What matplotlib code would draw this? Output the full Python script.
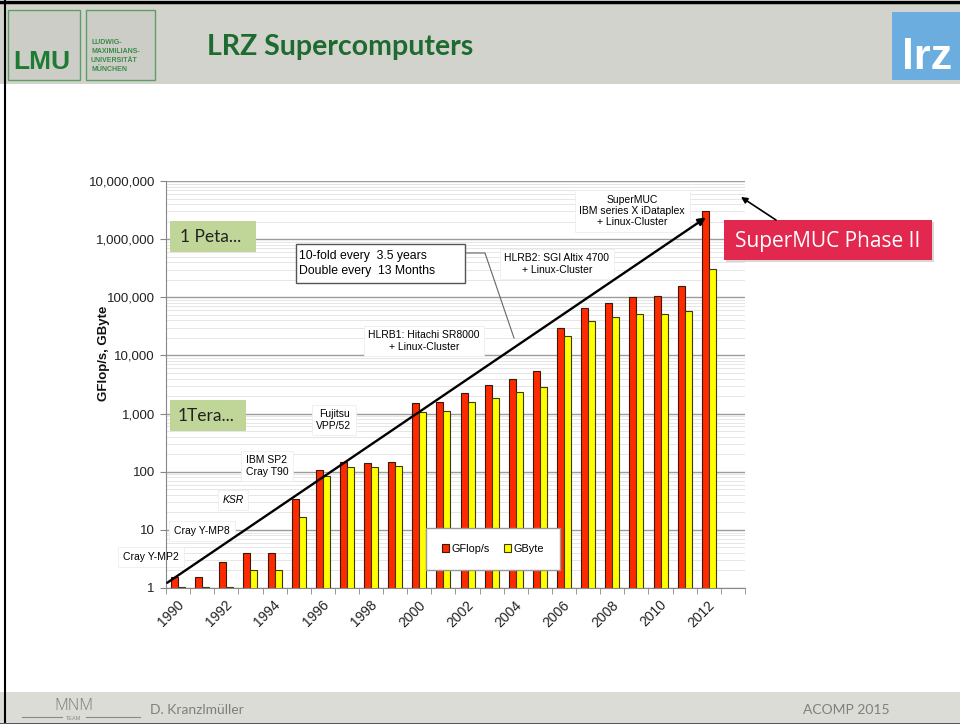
import numpy as np
import matplotlib
matplotlib.use("Agg")
import matplotlib.pyplot as plt
from matplotlib.patches import Rectangle
from matplotlib.lines import Line2D
from matplotlib.ticker import FixedLocator, LogLocator, NullFormatter, FuncFormatter

plt.rcParams['font.family'] = ['Liberation Sans', 'DejaVu Sans']

# data
years = list(range(1990, 2013))
gflops = [1.55, 1.55, 2.8, 4.0, 4.0, 34, 107, 147, 141, 148,
          1510, 1570, 2290, 3100, 3900, 5350, 29900, 65700, 80300, 99500,
          106000, 159000, 3020000]
gbyte = [1.04, 1.02, 1.02, 2.0, 2.0, 16.9, 85, 120, 120, 125,
         1080, 1120, 1590, 1880, 2330, 2870, 21200, 39400, 46000, 52000,
         52000, 59000, 312000]
series_names = ['GFlop/s', 'GByte']
machines = ['Cray Y-MP2', 'Cray Y-MP8', 'KSR', 'IBM SP2\nCray T90', 'Fujitsu\nVPP/52',
            'HLRB1: Hitachi SR8000\n+ Linux-Cluster',
            'HLRB2: SGI Altix 4700\n+ Linux-Cluster',
            'SuperMUC\nIBM series X iDataplex\n+ Linux-Cluster']

W, H = 960, 724
fig = plt.figure(figsize=(W / 100, H / 100), dpi=100)
fig.patch.set_facecolor('white')


def fx(x):
    return x / W


def fy(y):
    return 1 - y / H


def frect(x0, y0, x1, y1, **kw):
    r = Rectangle((fx(x0), fy(y1)), fx(x1) - fx(x0), fy(y0) - fy(y1),
                  transform=fig.transFigure, **kw)
    fig.add_artist(r)
    return r


# slide header / footer
frect(0, 3, 960, 84, fc='#D3D3CD', ec='none', zorder=0)
frect(0, 692, 960, 722, fc='#DCDCD6', ec='none', zorder=0)
fig.add_artist(Line2D([0, 1], [fy(1.5), fy(1.5)], transform=fig.transFigure, color='black', lw=2.5))
fig.add_artist(Line2D([fx(4.5), fx(4.5)], [fy(0), fy(724)], transform=fig.transFigure, color='black', lw=1.5))
fig.add_artist(Line2D([0, 1], [fy(722.5), fy(722.5)], transform=fig.transFigure, color='#555555', lw=1))

# LMU logo
frect(8, 10, 80, 80, fc='#CDCDC7', ec='#5E9E66', lw=1, zorder=1)
frect(86, 10, 155, 80, fc='#CDCDC7', ec='#5E9E66', lw=1, zorder=1)
fig.text(fx(13), fy(62), 'LMU', color='#1E7B34', fontsize=19, weight='bold', va='center', ha='left')
for i, s in enumerate(['LUDWIG-', 'MAXIMILIANS-', 'UNIVERSITÄT', 'MÜNCHEN']):
    fig.text(fx(91), fy(42 + 9.3 * i), s, color='#3C8A4A', fontsize=5, weight='bold', va='center', ha='left')

fig.text(fx(207), fy(47), 'LRZ Supercomputers', color='#1D6B30', fontsize=20.5, weight='bold',
         family=['Lato', 'DejaVu Sans'], va='center', ha='left')

# lrz logo
frect(892, 12, 960, 80, fc='#6CADDF', ec='none', zorder=1)
fig.text(fx(927), fy(58), 'lrz', color='white', fontsize=31, weight='bold', va='center', ha='center')

# footer
fig.text(fx(74), fy(706), 'MNM', color='#7A7A7A', fontsize=11.5, va='center', ha='center',
         family=['Open Sans', 'DejaVu Sans'], weight='light')
fig.add_artist(Line2D([fx(22), fx(62)], [fy(717), fy(717)], transform=fig.transFigure, color='#8A8A8A', lw=0.8))
fig.add_artist(Line2D([fx(86), fx(140)], [fy(717), fy(717)], transform=fig.transFigure, color='#8A8A8A', lw=0.8))
fig.text(fx(74), fy(718), 'TEAM', color='#8A8A8A', fontsize=4, va='center', ha='center')
fig.text(fx(150), fy(710), 'D. Kranzlmüller', color='#7F7F7F', fontsize=10, va='center', ha='left',
         family=['Lato', 'DejaVu Sans'])
fig.text(fx(890), fy(710), 'ACOMP 2015', color='#7F7F7F', fontsize=10, va='center', ha='right',
         family=['Lato', 'DejaVu Sans'])

# chart
ax = fig.add_axes([fx(166), fy(588), fx(745) - fx(166), fy(181) - fy(588)])
ax.set_facecolor('none')
x = np.arange(len(years))
b1 = ax.bar(x + 0.355, gflops, width=0.29, color='#FF2A00', edgecolor='#3A1A0A', lw=0.8,
            label=series_names[0], zorder=2)
b2 = ax.bar(x + 0.645, gbyte, width=0.29, color='#FFFF00', edgecolor='#3A3A0A', lw=0.8,
            label=series_names[1], zorder=2)

ax.set_yscale('log')
ax.set_ylim(1, 1e7)
ax.set_xlim(0, 24)
ax.yaxis.set_major_locator(FixedLocator([10 ** k for k in range(8)]))
ax.yaxis.set_major_formatter(FuncFormatter(lambda v, p: '{:,.0f}'.format(v)))
ax.yaxis.set_minor_locator(LogLocator(base=10, subs=np.arange(2, 10), numticks=20))
ax.yaxis.set_minor_formatter(NullFormatter())
ax.set_xticks([i + 0.45 for i in range(0, len(years), 2)])
ax.set_xticklabels([str(years[i]) for i in range(0, len(years), 2)], rotation=45,
                   ha='right', va='top', rotation_mode='anchor')
ax.set_xticks(np.arange(0, 25), minor=True)
ax.tick_params(axis='x', which='major', length=0, pad=7, labelsize=10, colors='#222222')
ax.tick_params(axis='x', which='minor', length=4, color='#888888', direction='out')
ax.tick_params(axis='y', which='major', length=4, color='#888888', pad=4, labelsize=9.5,
               labelcolor='#222222')
ax.tick_params(axis='y', which='minor', length=0)
ax.grid(which='major', axis='y', color='#9C9C9C', lw=1)
ax.grid(which='minor', axis='y', color='#E2E2E2', lw=0.6)
ax.set_axisbelow(True)
for s in ['top', 'right']:
    ax.spines[s].set_visible(False)
for s in ['left', 'bottom']:
    ax.spines[s].set_color('#888888')

fig.text(fx(104), fy(353), 'GFlop/s, GByte', rotation=90, weight='bold', fontsize=9.5,
         ha='center', va='center', color='#111111')

# machine labels
tf = fig.transFigure
box = dict(boxstyle='square,pad=0.45', fc='white', ec='#EEEEEE', lw=0.6)
label_pos = [(151, 557), (202, 531), (233, 500), (267, 466), (334, 420),
             (424, 341), (557, 264), (632, 211)]
for name, (px, py) in zip(machines, label_pos):
    ax.text(fx(px), fy(py), name, transform=tf, fontsize=7.5, ha='center', va='center',
            linespacing=1.15, style='italic' if name == 'KSR' else 'normal',
            bbox=box, zorder=1.5, clip_on=False)

# green marker boxes
for (x0, y0, x1, y1), txt in zip([(170, 221, 256, 252), (170, 400, 246, 431)], ['1 Peta...', '1Tera...']):
    r = Rectangle((fx(x0), fy(y1)), fx(x1) - fx(x0), fy(y0) - fy(y1), transform=tf,
                  fc='#C0D598', ec='none', zorder=1.6, clip_on=False)
    ax.add_artist(r)
    ax.text(fx((x0 + x1) / 2 - 2), fy((y0 + y1) / 2), txt, transform=tf, fontsize=12.5,
            family=['Lato', 'DejaVu Sans'], ha='center', va='center', zorder=1.7, color='#222222')

# trend box
r = Rectangle((fx(296), fy(283)), fx(465) - fx(296), fy(244) - fy(283), transform=tf,
              fc='white', ec='#555555', lw=1, zorder=1.6, clip_on=False)
ax.add_artist(r)
ax.text(fx(299), fy(263.5), '10-fold every  3.5 years\nDouble every  13 Months', transform=tf,
        fontsize=8.8, ha='left', va='center', linespacing=1.25, zorder=1.7)
ax.add_artist(Line2D([fx(466), fx(485), fx(514)], [fy(253), fy(253), fy(338)], transform=tf,
                     color='#666666', lw=0.8, zorder=1.6, clip_on=False))

# trend line
ax.annotate('', xy=(len(years) - 1 + 0.38, gflops[-1] * 0.78), xytext=(0.05, 1.23),
            arrowprops=dict(arrowstyle='-|>', color='black', lw=1.7, mutation_scale=11,
                            shrinkA=0, shrinkB=0), zorder=5)

# legend
ax.legend(handles=[b1, b2], loc='center', bbox_to_anchor=(fx(493), fy(549)), bbox_transform=tf,
          ncol=2, fontsize=7.8, frameon=True, fancybox=False, edgecolor='#999999', framealpha=1,
          borderpad=1.5, handlelength=0.7, handleheight=0.7, handletextpad=0.2,
          columnspacing=1.3)

# SuperMUC Phase II call-out
frect(726, 222, 934, 262, fc='#B0B0B0', ec='none', zorder=3, alpha=0.5)
frect(724, 220, 932, 260, fc='#E3284F', ec='none', zorder=4)
fig.text(fx(828), fy(241), 'SuperMUC Phase II', color='white', fontsize=15,
         family=['Open Sans', 'DejaVu Sans'], ha='center', va='center', zorder=5)
fig.add_artist(matplotlib.patches.FancyArrowPatch(
    (fx(776), fy(220)), (fx(741), fy(197)), transform=tf, arrowstyle='-|>',
    mutation_scale=9, color='black', lw=1.2, shrinkA=0, shrinkB=0, zorder=5))

fig.savefig('out.png', dpi=100)
